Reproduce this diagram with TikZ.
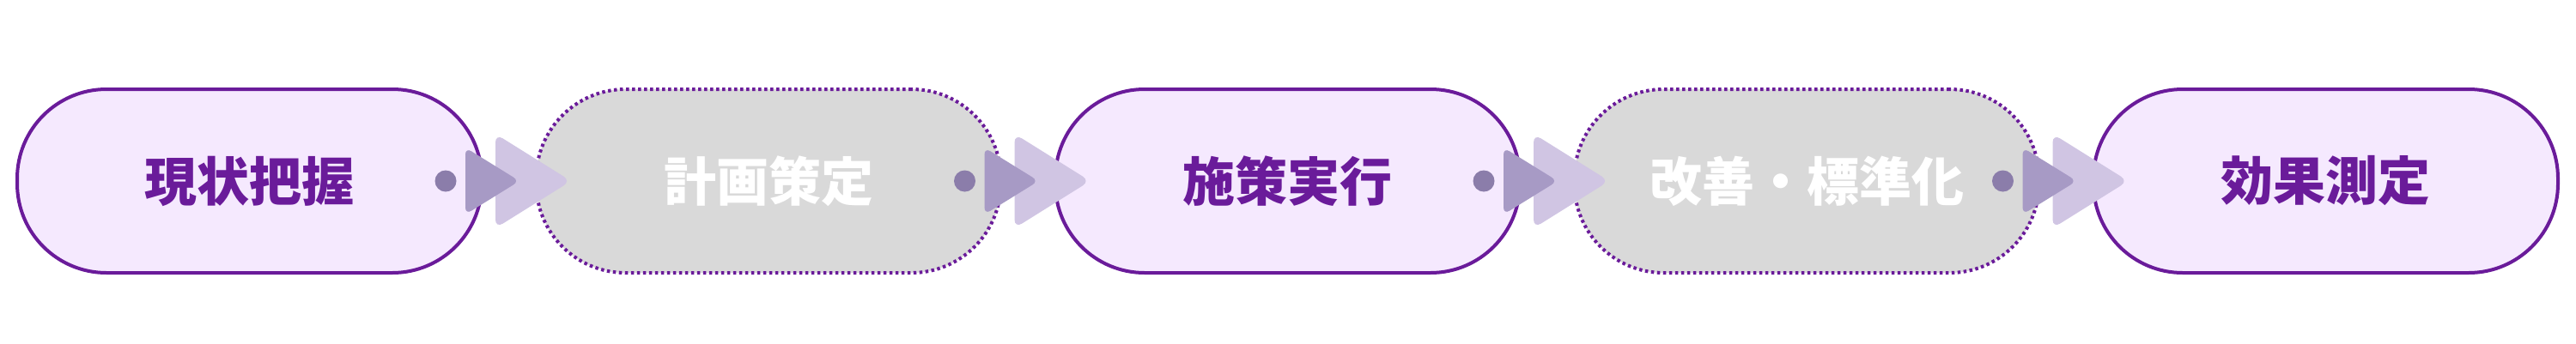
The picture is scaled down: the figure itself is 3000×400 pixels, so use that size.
\documentclass[tikz,border=0pt]{standalone}
\usepackage{fontspec}
\newfontfamily\cjk{Noto Sans CJK JP}
\usetikzlibrary{calc}
\definecolor{pborder}{HTML}{6A1B9A}
\definecolor{pfill}{HTML}{F5E9FE}
\definecolor{gfill}{HTML}{D9D9D9}
\definecolor{dotc}{HTML}{8B7DAA}
\definecolor{tridark}{HTML}{A79AC5}
\definecolor{trilight}{HTML}{D0C5E3}
\tikzset{
  stage/.style={rounded corners=104pt, minimum width=541pt, minimum height=214pt,
    inner sep=0pt, line width=4pt, font=\cjk\bfseries\fontsize{61}{72}\selectfont},
  active/.style={stage, draw=pborder, fill=pfill, text=pborder},
  muted/.style={stage, draw=pborder, fill=gfill, text=white, dash pattern=on 3.5pt off 3.5pt},
  knob/.style={circle, fill=dotc, minimum size=25pt, inner sep=0pt},
  tridk/.style={fill=tridark, rounded corners=8pt},
  trilt/.style={fill=trilight, rounded corners=10pt}
}
\begin{document}
\begin{tikzpicture}[x=1pt,y=-1pt]
\useasboundingbox (0,0) rectangle (3000,400);
\node[active] (b1) at (290.5,211) {現状把握};
\node[muted]  (b2) at (895,211) {計画策定};
\node[active] (b3) at (1499.5,211) {施策実行};
\node[muted]  (b4) at (2104,211) {改善・標準化};
\node[active] (b5) at (2708.5,211) {効果測定};
\foreach \i in {1,2,3,4}{
  \node[knob] (d\i) at ($(b\i.east)+(-44,0)$) {};
  \fill[trilt] ($(b\i.east)+(14,-55)$) -- ($(b\i.east)+(102,0)$) -- ($(b\i.east)+(14,55)$) -- cycle;
  \fill[tridk] ($(b\i.east)+(-21,-39)$) -- ($(b\i.east)+(42,0)$) -- ($(b\i.east)+(-21,39)$) -- cycle;
}
\end{tikzpicture}
\end{document}
